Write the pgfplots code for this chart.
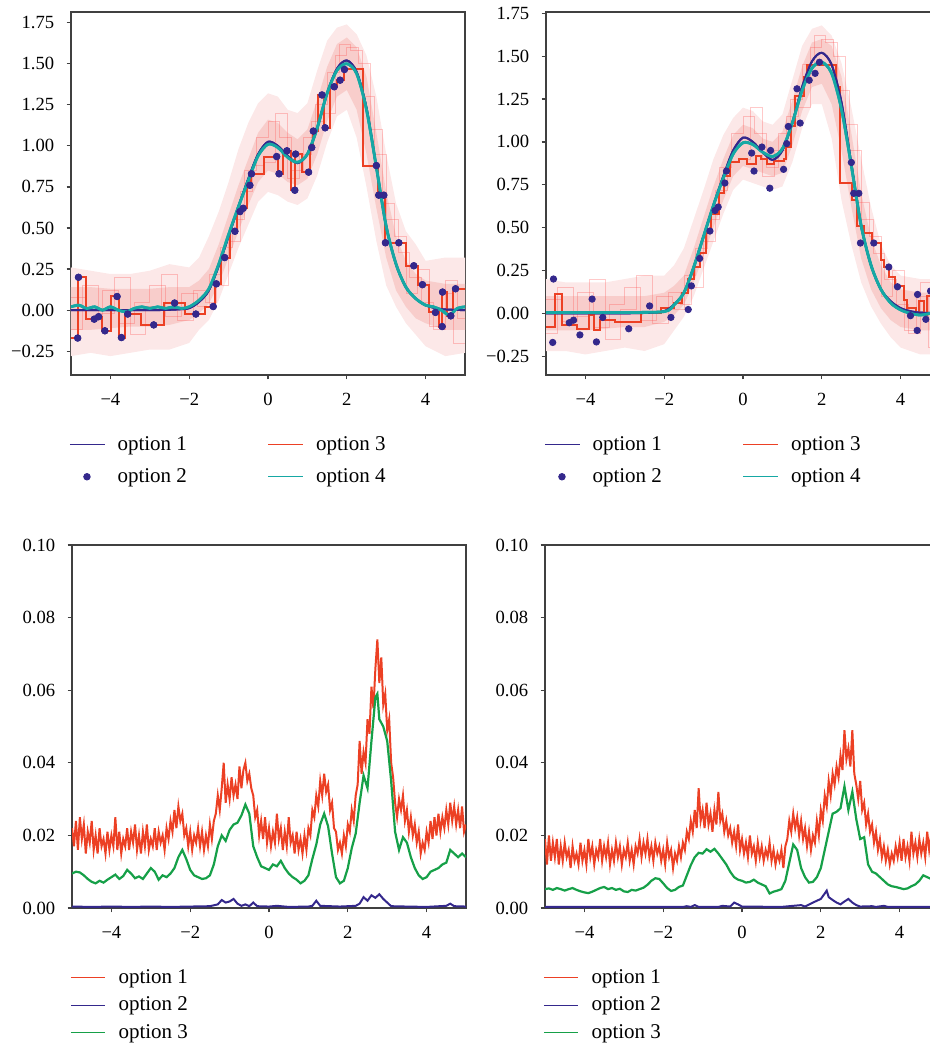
\documentclass[border=0pt]{standalone}
\usepackage{fontspec}
\setmainfont{Liberation Serif}
\usepackage{pgfplots}
\pgfplotsset{compat=1.18}
\usepackage{pgfplotstable}
\definecolor{cpur}{RGB}{52,40,140}
\definecolor{cred}{RGB}{236,64,36}
\definecolor{cteal}{RGB}{22,168,164}
\definecolor{cgreen}{RGB}{22,160,72}
\definecolor{axg}{RGB}{64,64,64}
\definecolor{pkA}{RGB}{252,232,232}
\definecolor{pkB}{RGB}{248,205,203}

\pgfplotstableread{
x y
-4.83 -0.17
-4.81 0.20
-4.41 -0.055
-4.30 -0.04
-4.14 -0.126
-3.83 0.083
-3.72 -0.167
-3.56 -0.024
-2.90 -0.09
-2.37 0.043
-1.83 -0.024
-1.39 0.022
-1.31 0.16
-1.10 0.32
-0.84 0.48
-0.71 0.60
-0.63 0.62
-0.46 0.76
-0.42 0.83
0.22 0.935
0.28 0.83
0.48 0.97
0.68 0.73
0.70 0.95
1.03 0.84
1.11 0.99
1.15 1.09
1.37 1.31
1.45 1.11
1.68 1.36
1.83 1.40
1.94 1.465
2.75 0.88
2.81 0.70
2.94 0.70
2.98 0.41
3.32 0.41
3.70 0.27
3.92 0.155
4.25 -0.014
4.42 -0.10
4.43 0.11
4.64 -0.035
4.76 0.13
}\dotdata

\pgfplotstableread{
x y
-5.00 -0.17
-4.83 -0.17
-4.81 0.20
-4.41 -0.055
-4.30 -0.04
-4.14 -0.126
-3.83 0.083
-3.72 -0.167
-3.56 -0.024
-2.90 -0.09
-2.37 0.043
-1.83 -0.024
-1.39 0.022
-1.31 0.16
-1.10 0.32
-0.84 0.48
-0.71 0.60
-0.63 0.62
-0.46 0.76
-0.42 0.83
0.22 0.935
0.28 0.83
0.48 0.97
0.68 0.73
0.70 0.95
1.03 0.84
1.11 0.99
1.15 1.09
1.37 1.31
1.45 1.11
1.68 1.36
1.83 1.40
2.05 1.465
2.75 0.88
2.81 0.70
2.94 0.70
2.98 0.41
3.32 0.41
3.70 0.27
3.92 0.155
4.25 -0.014
4.42 -0.10
4.43 0.11
4.64 -0.035
4.76 0.13
5.00 0.13
}\stepTL

\pgfplotstableread{
x y
-5.00 -0.08
-4.78 0.11
-4.59 -0.07
-4.21 -0.09
-3.91 -0.01
-3.79 -0.10
-3.62 -0.04
-3.24 -0.05
-2.60 0.00
-2.09 0.03
-1.75 0.06
-1.55 0.12
-1.40 0.20
-1.25 0.27
-1.10 0.35
-0.95 0.47
-0.80 0.58
-0.62 0.70
-0.48 0.80
-0.33 0.88
-0.10 0.90
0.10 0.87
0.32 0.92
0.45 0.90
0.62 0.87
0.78 0.89
1.04 0.90
1.10 0.97
1.22 1.09
1.33 1.27
1.54 1.38
1.63 1.45
2.35 1.32
2.47 0.76
2.77 0.66
2.90 0.51
3.07 0.47
3.28 0.41
3.49 0.31
3.57 0.27
3.70 0.21
3.87 0.16
4.08 0.08
4.17 0.03
4.38 -0.01
4.46 0.07
4.59 -0.01
4.67 0.10
5.00 0.10
}\stepTR

\pgfplotstableread{
x y
-5.0 0.08
-4.6 -0.05
-4.2 0.12
-3.8 -0.08
-3.4 0.05
-3.0 0.15
-2.6 -0.04
-2.2 0.10
-1.8 0.02
-1.5 0.22
-1.2 0.38
-0.9 0.55
-0.6 0.85
-0.3 1.05
0.0 1.15
0.3 1.05
0.6 0.85
0.9 1.05
1.2 1.25
1.5 1.45
1.8 1.62
2.1 1.58
2.4 1.30
2.7 0.95
3.0 0.55
3.3 0.35
3.6 0.20
3.9 0.05
4.2 -0.12
4.5 0.18
4.8 -0.05
5.0 -0.05
}\faintA

\pgfplotstableread{
x y
-5.0 -0.12
-4.7 0.15
-4.3 -0.02
-3.9 0.20
-3.5 -0.15
-3.1 0.02
-2.7 0.22
-2.3 -0.06
-1.9 0.12
-1.6 0.05
-1.3 0.15
-1.0 0.42
-0.7 0.72
-0.4 0.88
-0.1 0.90
0.2 1.20
0.5 0.80
0.8 0.95
1.1 1.15
1.4 1.20
1.7 1.55
2.0 1.60
2.3 1.50
2.6 1.10
2.9 0.65
3.2 0.45
3.5 0.10
3.8 0.25
4.1 -0.10
4.4 0.10
4.7 -0.20
5.0 -0.20
}\faintB

\pgfplotstableread{
x y
-5.0 0.0
-4.0 0.0
-3.0 0.0
-2.5 0.002
-2.25 0.005
-2.0 0.012
-1.75 0.05
-1.5 0.12
-1.25 0.27
-1.0 0.45
-0.75 0.63
-0.5 0.80
-0.25 0.95
0.0 1.025
0.25 1.00
0.5 0.94
0.75 0.895
1.0 0.95
1.25 1.11
1.5 1.32
1.75 1.47
2.0 1.52
2.25 1.45
2.5 1.23
2.75 0.87
3.0 0.51
3.25 0.28
3.5 0.14
3.75 0.07
4.0 0.03
4.25 0.012
4.5 0.004
5.0 0.0
}\truth

\pgfplotstableread{
x y
-5.0 0.02
-4.8 0.03
-4.6 0.01
-4.4 0.02
-4.2 0.00
-4.0 0.02
-3.8 0.00
-3.6 -0.01
-3.4 0.01
-3.2 0.02
-3.0 0.01
-2.8 0.02
-2.6 0.01
-2.4 0.02
-2.2 0.01
-2.0 0.02
-1.75 0.06
-1.5 0.13
-1.25 0.28
-1.0 0.46
-0.75 0.63
-0.5 0.79
-0.25 0.94
0.0 1.01
0.25 0.99
0.5 0.93
0.75 0.90
1.0 0.95
1.25 1.11
1.5 1.32
1.75 1.46
2.0 1.50
2.25 1.44
2.5 1.22
2.75 0.87
3.0 0.51
3.25 0.28
3.5 0.14
3.75 0.07
4.0 0.03
4.2 0.02
4.4 0.00
4.6 -0.03
4.8 0.01
5.0 0.02
}\tealTL

\pgfplotstableread{
x y
-5.0 0.005
-4.0 0.005
-3.0 0.005
-2.0 0.01
-1.75 0.05
-1.5 0.12
-1.25 0.27
-1.0 0.45
-0.75 0.63
-0.5 0.79
-0.25 0.93
0.0 0.995
0.25 0.985
0.5 0.94
0.75 0.915
1.0 0.96
1.25 1.11
1.5 1.30
1.75 1.43
2.0 1.465
2.25 1.40
2.5 1.19
2.75 0.86
3.0 0.51
3.25 0.28
3.5 0.14
3.75 0.06
4.0 0.02
4.25 0.0
4.5 -0.01
4.75 0.0
5.0 0.01
}\tealTR

\pgfplotstableread{
x y
-5.0 0.26
-4.5 0.24
-4.0 0.22
-3.5 0.22
-3.0 0.24
-2.5 0.28
-2.0 0.26
-1.75 0.32
-1.5 0.45
-1.25 0.60
-1.0 0.78
-0.75 0.98
-0.5 1.14
-0.25 1.26
0.0 1.32
0.25 1.30
0.5 1.22
0.75 1.20
1.0 1.26
1.25 1.46
1.5 1.64
1.75 1.72
2.0 1.74
2.25 1.68
2.5 1.55
2.75 1.30
3.0 0.95
3.25 0.65
3.5 0.48
3.75 0.40
4.0 0.30
4.5 0.32
5.0 0.32
5.0 -0.26
4.5 -0.28
4.0 -0.22
3.75 -0.15
3.5 -0.08
3.25 0.02
3.0 0.15
2.75 0.42
2.5 0.75
2.25 1.05
2.0 1.22
1.75 1.18
1.5 1.02
1.25 0.82
1.0 0.68
0.75 0.64
0.5 0.66
0.25 0.70
0.0 0.72
-0.25 0.66
-0.5 0.52
-0.75 0.38
-1.0 0.22
-1.25 0.06
-1.5 -0.06
-1.75 -0.12
-2.0 -0.20
-2.5 -0.24
-3.0 -0.24
-3.5 -0.26
-4.0 -0.28
-4.5 -0.26
-5.0 -0.28
}\outerTL

\pgfplotstableread{
x y
-5.0 0.14
-4.5 0.14
-4.0 0.13
-3.5 0.13
-3.0 0.13
-2.5 0.14
-2.0 0.14
-1.75 0.18
-1.5 0.25
-1.25 0.40
-1.0 0.58
-0.75 0.76
-0.5 0.92
-0.25 1.08
0.0 1.16
0.25 1.14
0.5 1.08
0.75 1.04
1.0 1.10
1.25 1.28
1.5 1.48
1.75 1.62
2.0 1.66
2.25 1.60
2.5 1.42
2.75 1.08
3.0 0.72
3.25 0.45
3.5 0.30
3.75 0.22
4.0 0.18
4.5 0.16
5.0 0.16
5.0 -0.12
4.5 -0.12
4.0 -0.08
3.75 -0.05
3.5 0.02
3.25 0.12
3.0 0.32
2.75 0.62
2.5 0.95
2.25 1.22
2.0 1.34
1.75 1.30
1.5 1.15
1.25 0.95
1.0 0.80
0.75 0.76
0.5 0.78
0.25 0.83
0.0 0.85
-0.25 0.78
-0.5 0.64
-0.75 0.48
-1.0 0.32
-1.25 0.16
-1.5 0.04
-1.75 -0.02
-2.0 -0.06
-2.5 -0.09
-3.0 -0.10
-3.5 -0.10
-4.0 -0.11
-4.5 -0.12
-5.0 -0.12
}\innerTL

\pgfplotstableread{
x y
-5.0 0.20
-4.5 0.18
-4.0 0.18
-3.5 0.18
-3.0 0.20
-2.5 0.22
-2.0 0.22
-1.75 0.28
-1.5 0.38
-1.25 0.55
-1.0 0.72
-0.75 0.90
-0.5 1.04
-0.25 1.14
0.0 1.20
0.25 1.18
0.5 1.12
0.75 1.10
1.0 1.16
1.25 1.36
1.5 1.56
1.75 1.66
2.0 1.68
2.25 1.62
2.5 1.46
2.75 1.20
3.0 0.90
3.25 0.62
3.5 0.40
3.75 0.28
4.0 0.22
4.5 0.20
5.0 0.20
5.0 -0.24
4.5 -0.24
4.0 -0.20
3.75 -0.14
3.5 -0.06
3.25 0.04
3.0 0.18
2.75 0.40
2.5 0.66
2.25 1.02
2.0 1.22
1.75 1.22
1.5 1.08
1.25 0.88
1.0 0.74
0.75 0.72
0.5 0.74
0.25 0.76
0.0 0.78
-0.25 0.72
-0.5 0.58
-0.75 0.42
-1.0 0.26
-1.25 0.10
-1.5 -0.02
-1.75 -0.10
-2.0 -0.18
-2.5 -0.22
-3.0 -0.20
-3.5 -0.22
-4.0 -0.24
-4.5 -0.22
-5.0 -0.22
}\outerTR

\pgfplotstableread{
x y
-5.0 0.10
-4.5 0.10
-4.0 0.10
-3.5 0.10
-3.0 0.10
-2.5 0.10
-2.0 0.12
-1.75 0.16
-1.5 0.22
-1.25 0.38
-1.0 0.56
-0.75 0.74
-0.5 0.90
-0.25 1.04
0.0 1.10
0.25 1.08
0.5 1.02
0.75 1.00
1.0 1.06
1.25 1.24
1.5 1.44
1.75 1.58
2.0 1.60
2.25 1.56
2.5 1.38
2.75 1.05
3.0 0.70
3.25 0.44
3.5 0.28
3.75 0.18
4.0 0.14
4.5 0.12
5.0 0.12
5.0 -0.10
4.5 -0.10
4.0 -0.08
3.75 -0.04
3.5 0.03
3.25 0.14
3.0 0.32
2.75 0.62
2.5 0.95
2.25 1.22
2.0 1.34
1.75 1.32
1.5 1.18
1.25 0.98
1.0 0.82
0.75 0.80
0.5 0.82
0.25 0.84
0.0 0.86
-0.25 0.80
-0.5 0.66
-0.75 0.50
-1.0 0.34
-1.25 0.18
-1.5 0.05
-1.75 -0.01
-2.0 -0.05
-2.5 -0.08
-3.0 -0.08
-3.5 -0.09
-4.0 -0.10
-4.5 -0.10
-5.0 -0.10
}\innerTR

\pgfplotstableread{
x y
-5.00 0.022
-4.95 0.017
-4.90 0.024
-4.85 0.016
-4.80 0.025
-4.75 0.019
-4.70 0.023
-4.65 0.015
-4.60 0.021
-4.55 0.018
-4.50 0.024
-4.45 0.016
-4.40 0.020
-4.35 0.015
-4.30 0.022
-4.25 0.017
-4.20 0.019
-4.15 0.015
-4.10 0.021
-4.05 0.016
-4.00 0.020
-3.95 0.017
-3.90 0.025
-3.85 0.016
-3.80 0.021
-3.75 0.015
-3.70 0.019
-3.65 0.017
-3.60 0.022
-3.55 0.016
-3.50 0.021
-3.45 0.018
-3.40 0.023
-3.35 0.016
-3.30 0.020
-3.25 0.015
-3.20 0.021
-3.15 0.017
-3.10 0.023
-3.05 0.016
-3.00 0.019
-2.95 0.017
-2.90 0.022
-2.85 0.016
-2.80 0.021
-2.75 0.018
-2.70 0.020
-2.65 0.016
-2.60 0.022
-2.55 0.019
-2.50 0.024
-2.45 0.021
-2.40 0.027
-2.35 0.022
-2.30 0.028
-2.25 0.024
-2.20 0.026
-2.15 0.020
-2.10 0.022
-2.05 0.017
-2.00 0.021
-1.95 0.016
-1.90 0.020
-1.85 0.018
-1.80 0.022
-1.75 0.017
-1.70 0.021
-1.65 0.016
-1.60 0.020
-1.55 0.017
-1.50 0.023
-1.45 0.019
-1.40 0.024
-1.35 0.026
-1.30 0.031
-1.25 0.027
-1.20 0.033
-1.15 0.040
-1.10 0.029
-1.05 0.034
-1.00 0.030
-0.95 0.036
-0.90 0.031
-0.85 0.034
-0.80 0.030
-0.75 0.039
-0.70 0.033
-0.65 0.038
-0.60 0.040
-0.55 0.035
-0.50 0.037
-0.45 0.033
-0.40 0.031
-0.35 0.025
-0.30 0.027
-0.25 0.020
-0.20 0.024
-0.15 0.019
-0.10 0.025
-0.05 0.018
0.00 0.022
0.05 0.017
0.10 0.021
0.15 0.018
0.20 0.026
0.25 0.019
0.30 0.022
0.35 0.016
0.40 0.021
0.45 0.017
0.50 0.025
0.55 0.018
0.60 0.020
0.65 0.015
0.70 0.021
0.75 0.016
0.80 0.019
0.85 0.015
0.90 0.020
0.95 0.016
1.00 0.022
1.05 0.020
1.10 0.027
1.15 0.025
1.20 0.031
1.25 0.028
1.30 0.035
1.35 0.031
1.40 0.037
1.45 0.032
1.50 0.034
1.55 0.027
1.60 0.029
1.65 0.022
1.70 0.021
1.75 0.016
1.80 0.018
1.85 0.015
1.90 0.020
1.95 0.017
2.00 0.023
2.05 0.021
2.10 0.027
2.15 0.024
2.20 0.031
2.25 0.034
2.30 0.046
2.35 0.037
2.40 0.043
2.45 0.040
2.50 0.052
2.55 0.048
2.60 0.061
2.65 0.055
2.70 0.066
2.75 0.074
2.80 0.062
2.85 0.069
2.90 0.056
2.95 0.059
3.00 0.049
3.05 0.052
3.10 0.040
3.15 0.036
3.20 0.029
3.25 0.025
3.30 0.030
3.35 0.027
3.40 0.031
3.45 0.024
3.50 0.027
3.55 0.021
3.60 0.025
3.65 0.020
3.70 0.023
3.75 0.018
3.80 0.021
3.85 0.015
3.90 0.018
3.95 0.016
4.00 0.021
4.05 0.018
4.10 0.024
4.15 0.019
4.20 0.025
4.25 0.020
4.30 0.026
4.35 0.021
4.40 0.025
4.45 0.022
4.50 0.027
4.55 0.023
4.60 0.029
4.65 0.024
4.70 0.028
4.75 0.023
4.80 0.027
4.85 0.022
4.90 0.028
4.95 0.021
5.00 0.023
}\redBL

\pgfplotstableread{
x y
-5.0 0.0095
-4.9 0.0100
-4.8 0.0098
-4.7 0.0090
-4.6 0.0080
-4.5 0.0072
-4.4 0.0068
-4.3 0.0075
-4.2 0.0070
-4.1 0.0078
-4.0 0.0085
-3.9 0.0092
-3.8 0.0080
-3.7 0.0088
-3.6 0.0105
-3.5 0.0095
-3.4 0.0082
-3.3 0.0087
-3.2 0.0080
-3.1 0.0095
-3.0 0.0110
-2.9 0.0100
-2.8 0.0078
-2.7 0.0090
-2.6 0.0085
-2.5 0.0095
-2.4 0.0110
-2.3 0.0140
-2.2 0.0160
-2.1 0.0135
-2.0 0.0105
-1.9 0.0090
-1.8 0.0085
-1.7 0.0080
-1.6 0.0082
-1.5 0.0090
-1.4 0.0120
-1.3 0.0170
-1.2 0.0200
-1.1 0.0185
-1.0 0.0215
-0.9 0.0230
-0.8 0.0235
-0.7 0.0255
-0.6 0.0285
-0.5 0.0260
-0.4 0.0170
-0.3 0.0140
-0.2 0.0115
-0.1 0.0110
0.0 0.0105
0.1 0.0120
0.2 0.0115
0.3 0.0130
0.4 0.0110
0.5 0.0095
0.6 0.0085
0.7 0.0078
0.8 0.0068
0.9 0.0075
1.0 0.0090
1.1 0.0135
1.2 0.0175
1.3 0.0230
1.4 0.0260
1.5 0.0225
1.6 0.0150
1.7 0.0085
1.8 0.0068
1.9 0.0075
2.0 0.0110
2.1 0.0165
2.2 0.0205
2.3 0.0290
2.4 0.0365
2.5 0.0330
2.6 0.0460
2.7 0.0580
2.75 0.0590
2.8 0.0520
2.9 0.0500
3.0 0.0460
3.1 0.0350
3.2 0.0210
3.3 0.0160
3.4 0.0195
3.5 0.0180
3.6 0.0140
3.7 0.0110
3.8 0.0090
3.9 0.0080
4.0 0.0085
4.1 0.0100
4.2 0.0105
4.3 0.0110
4.4 0.0120
4.5 0.0125
4.6 0.0160
4.7 0.0150
4.8 0.0140
4.9 0.0150
5.0 0.0140
}\greenBL

\pgfplotstableread{
x y
-5.0 0.0004
-4.5 0.0003
-4.0 0.0004
-3.5 0.0003
-3.0 0.0004
-2.5 0.0003
-2.0 0.0004
-1.5 0.0005
-1.3 0.0010
-1.2 0.0022
-1.1 0.0015
-1.0 0.0018
-0.9 0.0025
-0.8 0.0012
-0.7 0.0006
-0.6 0.0010
-0.5 0.0005
-0.4 0.0015
-0.3 0.0005
0.0 0.0004
0.2 0.0006
0.5 0.0003
1.0 0.0004
1.1 0.0006
1.2 0.0020
1.3 0.0006
1.8 0.0004
2.2 0.0006
2.3 0.0012
2.4 0.0030
2.5 0.0020
2.6 0.0035
2.7 0.0028
2.8 0.0038
2.9 0.0025
3.0 0.0015
3.1 0.0005
3.5 0.0004
4.0 0.0003
4.5 0.0006
4.6 0.0012
4.7 0.0005
5.0 0.0004
}\blueBL

\pgfplotstableread{
x y
-5.00 0.019
-4.95 0.012
-4.90 0.020
-4.85 0.013
-4.80 0.018
-4.75 0.014
-4.70 0.019
-4.65 0.012
-4.60 0.017
-4.55 0.013
-4.50 0.018
-4.45 0.014
-4.40 0.016
-4.35 0.011
-4.30 0.017
-4.25 0.013
-4.20 0.015
-4.15 0.012
-4.10 0.018
-4.05 0.013
-4.00 0.016
-3.95 0.012
-3.90 0.019
-3.85 0.014
-3.80 0.017
-3.75 0.012
-3.70 0.016
-3.65 0.014
-3.60 0.019
-3.55 0.013
-3.50 0.017
-3.45 0.014
-3.40 0.018
-3.35 0.012
-3.30 0.016
-3.25 0.013
-3.20 0.018
-3.15 0.014
-3.10 0.017
-3.05 0.012
-3.00 0.016
-2.95 0.014
-2.90 0.018
-2.85 0.013
-2.80 0.016
-2.75 0.012
-2.70 0.017
-2.65 0.015
-2.60 0.019
-2.55 0.014
-2.50 0.018
-2.45 0.015
-2.40 0.019
-2.35 0.014
-2.30 0.017
-2.25 0.013
-2.20 0.018
-2.15 0.015
-2.10 0.017
-2.05 0.013
-2.00 0.016
-1.95 0.012
-1.90 0.018
-1.85 0.014
-1.80 0.016
-1.75 0.011
-1.70 0.015
-1.65 0.013
-1.60 0.017
-1.55 0.014
-1.50 0.018
-1.45 0.016
-1.40 0.021
-1.35 0.019
-1.30 0.024
-1.25 0.021
-1.20 0.027
-1.15 0.022
-1.10 0.033
-1.05 0.024
-1.00 0.027
-0.95 0.022
-0.90 0.029
-0.85 0.023
-0.80 0.026
-0.75 0.021
-0.70 0.027
-0.65 0.023
-0.60 0.032
-0.55 0.024
-0.50 0.026
-0.45 0.021
-0.40 0.024
-0.35 0.020
-0.30 0.022
-0.25 0.018
-0.20 0.021
-0.15 0.017
-0.10 0.023
-0.05 0.016
0.00 0.019
0.05 0.015
0.10 0.018
0.15 0.014
0.20 0.020
0.25 0.015
0.30 0.017
0.35 0.013
0.40 0.018
0.45 0.014
0.50 0.017
0.55 0.013
0.60 0.016
0.65 0.014
0.70 0.018
0.75 0.013
0.80 0.016
0.85 0.012
0.90 0.015
0.95 0.013
1.00 0.016
1.05 0.011
1.10 0.017
1.15 0.019
1.20 0.024
1.25 0.021
1.30 0.026
1.35 0.022
1.40 0.025
1.45 0.020
1.50 0.024
1.55 0.019
1.60 0.022
1.65 0.017
1.70 0.021
1.75 0.016
1.80 0.020
1.85 0.018
1.90 0.024
1.95 0.020
2.00 0.027
2.05 0.024
2.10 0.031
2.15 0.028
2.20 0.035
2.25 0.031
2.30 0.037
2.35 0.034
2.40 0.039
2.45 0.036
2.50 0.042
2.55 0.038
2.60 0.049
2.65 0.041
2.70 0.044
2.75 0.039
2.80 0.049
2.85 0.037
2.90 0.034
2.95 0.030
3.00 0.035
3.05 0.027
3.10 0.029
3.15 0.023
3.20 0.026
3.25 0.021
3.30 0.023
3.35 0.018
3.40 0.021
3.45 0.016
3.50 0.019
3.55 0.014
3.60 0.017
3.65 0.013
3.70 0.016
3.75 0.012
3.80 0.015
3.85 0.013
3.90 0.017
3.95 0.014
4.00 0.018
4.05 0.013
4.10 0.019
4.15 0.014
4.20 0.017
4.25 0.013
4.30 0.021
4.35 0.015
4.40 0.018
4.45 0.014
4.50 0.019
4.55 0.015
4.60 0.018
4.65 0.014
4.70 0.021
4.75 0.016
4.80 0.020
4.85 0.017
4.90 0.021
4.95 0.016
5.00 0.019
}\redBR

\pgfplotstableread{
x y
-5.0 0.0052
-4.9 0.0054
-4.8 0.0050
-4.7 0.0055
-4.6 0.0052
-4.5 0.0048
-4.4 0.0052
-4.3 0.0055
-4.2 0.0050
-4.1 0.0046
-4.0 0.0043
-3.9 0.0041
-3.8 0.0045
-3.7 0.0050
-3.6 0.0055
-3.5 0.0058
-3.4 0.0052
-3.3 0.0055
-3.2 0.0050
-3.1 0.0053
-3.0 0.0046
-2.9 0.0044
-2.8 0.0050
-2.7 0.0048
-2.6 0.0052
-2.5 0.0056
-2.4 0.0064
-2.3 0.0075
-2.2 0.0082
-2.1 0.0080
-2.0 0.0068
-1.9 0.0055
-1.8 0.0047
-1.7 0.0050
-1.6 0.0058
-1.5 0.0062
-1.4 0.0090
-1.3 0.0118
-1.2 0.0140
-1.1 0.0152
-1.0 0.0150
-0.9 0.0162
-0.8 0.0155
-0.7 0.0163
-0.6 0.0150
-0.5 0.0135
-0.4 0.0120
-0.3 0.0100
-0.2 0.0085
-0.1 0.0078
0.0 0.0075
0.1 0.0070
0.2 0.0072
0.3 0.0078
0.4 0.0070
0.5 0.0065
0.6 0.0060
0.7 0.0040
0.8 0.0045
0.9 0.0048
1.0 0.0052
1.1 0.0075
1.2 0.0125
1.3 0.0175
1.4 0.0160
1.5 0.0110
1.6 0.0085
1.7 0.0070
1.8 0.0072
1.9 0.0085
2.0 0.0110
2.1 0.0160
2.2 0.0210
2.3 0.0260
2.4 0.0265
2.5 0.0275
2.6 0.0335
2.7 0.0270
2.8 0.0320
2.9 0.0245
3.0 0.0190
3.1 0.0195
3.2 0.0120
3.3 0.0100
3.4 0.0095
3.5 0.0085
3.6 0.0075
3.7 0.0065
3.8 0.0060
3.9 0.0058
4.0 0.0055
4.1 0.0052
4.2 0.0054
4.3 0.0060
4.4 0.0065
4.5 0.0075
4.6 0.0090
4.7 0.0085
4.8 0.0080
4.9 0.0088
5.0 0.0090
}\greenBR

\pgfplotstableread{
x y
-5.0 0.0003
-4.0 0.0003
-3.0 0.0003
-2.0 0.0003
-1.5 0.0003
-1.4 0.0005
-1.3 0.0003
-1.2 0.0008
-1.1 0.0003
-0.6 0.0003
-0.5 0.0006
-0.3 0.0004
-0.2 0.0015
-0.1 0.0010
0.0 0.0004
1.0 0.0003
1.5 0.0008
1.6 0.0004
1.8 0.0015
2.0 0.0025
2.1 0.0040
2.15 0.0048
2.2 0.0030
2.3 0.0022
2.4 0.0015
2.5 0.0010
2.6 0.0018
2.7 0.0025
2.8 0.0015
2.9 0.0008
3.0 0.0004
3.3 0.0005
3.4 0.0003
3.6 0.0006
3.7 0.0003
5.0 0.0003
}\blueBR

\pgfplotsset{
  panel/.style={
    scale only axis, width=197pt, height=181.5pt,
    xmin=-5, xmax=5,
    axis line style={draw=axg, line width=0.6pt},
    tick style={draw=axg, line width=0.6pt},
    tick align=outside, major tick length=2.2pt, tick pos=left,
    xtick={-4,-2,0,2,4}, xticklabels={−4,−2,0,2,4},
    tick label style={font=\fontsize{9.3}{11}\selectfont, inner sep=0pt},
    yticklabel style={anchor=east, xshift=-6pt},
    xticklabel style={anchor=north, yshift=-6.5pt},
    legend cell align=left,
    legend image post style={line width=0.5pt},
    legend style={at={(0,0)}, anchor=north west, xshift=-1pt, yshift=-28.5pt,
      draw=none, fill=none, inner sep=0pt,
      font=\fontsize{10.5}{12}\selectfont,
      /tikz/every odd column/.append style={column sep=4.5pt}},
  },
  toppanel/.style={panel,
    ytick={-0.25,0,0.25,0.5,0.75,1,1.25,1.5,1.75},
    yticklabels={−0.25,0.00,0.25,0.50,0.75,1.00,1.25,1.50,1.75},
    legend columns=2, transpose legend,
    legend style={row sep=3.5pt, /tikz/every even column/.append style={column sep=38.5pt}},
  },
  botpanel/.style={panel, ymin=0, ymax=0.10,
    ytick={0,0.02,0.04,0.06,0.08,0.10},
    yticklabels={0.00,0.02,0.04,0.06,0.08,0.10},
    legend style={row sep=1.3pt},
  },
  faint/.style={red!70!white, opacity=0.3, line width=0.4pt, const plot, forget plot},
}

\begin{document}
\begin{tikzpicture}
\begin{scope}
\clip (0,0) rectangle (465pt,-522.5pt);

% ---------------- top left
\begin{axis}[toppanel, at={(35.5pt,-6pt)}, anchor=north west, ymin=-0.395, ymax=1.815]
\addplot[fill=pkA, draw=none, forget plot] table{\outerTL};
\addplot[fill=pkB, draw=none, forget plot] table{\innerTL};
\addplot[faint] table{\faintA};
\addplot[faint] table{\faintB};
\addplot[cpur, line width=1pt, smooth] table{\truth};
\addplot[only marks, mark=*, mark size=1.6pt, cpur] table{\dotdata};
\addplot[cred, line width=1pt, const plot mark mid] table{\stepTL};
\addplot[cteal, line width=1.4pt, smooth] table{\tealTL};
\addplot[only marks, mark=*, mark size=1.6pt, cpur, forget plot] table{\dotdata};
\addplot[cpur, line width=1pt, smooth, forget plot] table{\truth};
\addplot[cteal, line width=1.4pt, smooth, forget plot] table{\tealTL};
\legend{option 1, option 2, option 3, option 4}
\end{axis}

% ---------------- top right
\begin{axis}[toppanel, at={(273pt,-6pt)}, anchor=north west, ymin=-0.36, ymax=1.758]
\addplot[fill=pkA, draw=none, forget plot] table{\outerTR};
\addplot[fill=pkB, draw=none, forget plot] table{\innerTR};
\addplot[faint] table{\faintB};
\addplot[faint] table{\faintA};
\addplot[cpur, line width=1pt, smooth] table{\truth};
\addplot[only marks, mark=*, mark size=1.6pt, cpur] table{\dotdata};
\addplot[cred, line width=1pt, const plot] table{\stepTR};
\addplot[cteal, line width=1.4pt, smooth] table{\tealTR};
\addplot[cpur, line width=1pt, smooth, forget plot] table{\truth};
\addplot[cteal, line width=1.4pt, smooth, forget plot] table{\tealTR};
\legend{option 1, option 2, option 3, option 4}
\end{axis}

% ---------------- bottom left
\begin{axis}[botpanel, at={(36pt,-272.5pt)}, anchor=north west]
\addplot[cred, line width=1pt] table{\redBL};
\addplot[cpur, line width=1pt] table{\blueBL};
\addplot[cgreen, line width=1.1pt] table{\greenBL};
\legend{option 1, option 2, option 3}
\end{axis}

% ---------------- bottom right
\begin{axis}[botpanel, at={(272.5pt,-272.5pt)}, anchor=north west]
\addplot[cred, line width=1pt] table{\redBR};
\addplot[cpur, line width=1pt] table{\blueBR};
\addplot[cgreen, line width=1.1pt] table{\greenBR};
\legend{option 1, option 2, option 3}
\end{axis}
\end{scope}
\pgfresetboundingbox
\path (0,0) rectangle (465pt,-522.5pt);
\end{tikzpicture}
\end{document}
